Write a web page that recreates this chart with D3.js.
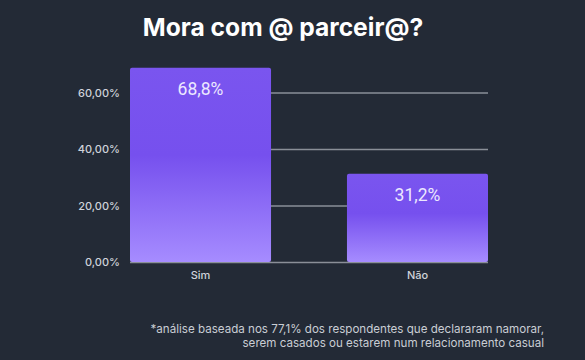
<!DOCTYPE html>
<html><head><meta charset="utf-8">
<script src="https://cdn.jsdelivr.net/npm/d3@7"></script>
<style>html,body{margin:0;padding:0;background:#232a36;}svg{display:block;}</style>
</head><body>
<script>
const categories = ["Sim", "Não"];
const values = [68.8, 31.2];
const valueLabels = ["68,8%", "31,2%"];
const yTicks = [0, 20, 40, 60];
const yTickLabels = ["0,00%", "20,00%", "40,00%", "60,00%"];
const title = "Mora com @ parceir@?";
const footnote = ["*análise baseada nos 77,1% dos respondentes que declararam namorar,", "serem casados ou estarem num relacionamento casual"];

const W = 585, H = 360;
const m = {left: 130, right: 97, top: 37, bottom: 98};
const svg = d3.select("body").append("svg").attr("width", W).attr("height", H);
svg.append("rect").attr("width", W).attr("height", H).attr("fill", "#232a36");

const defs = svg.append("defs");
const grad = defs.append("linearGradient").attr("id", "bg").attr("x1", 0).attr("y1", 0).attr("x2", 0).attr("y2", 1);
grad.append("stop").attr("offset", "0%").attr("stop-color", "#7a55ef");
grad.append("stop").attr("offset", "45%").attr("stop-color", "#7650ee");
grad.append("stop").attr("offset", "100%").attr("stop-color", "#a68cff");

const x = d3.scaleBand().domain(categories).range([m.left, W - m.right]).paddingInner(0.35).paddingOuter(0);
const y = d3.scaleLinear().domain([0, 80]).range([H - m.bottom, H - m.bottom - 4 * 56.5]);

// gridlines
const yAxis = d3.axisLeft(y).tickValues(yTicks).tickFormat((d, i) => yTickLabels[i]).tickSize(-(W - m.left - m.right)).tickPadding(10);
const ga = svg.append("g").attr("transform", `translate(${m.left},0)`).call(yAxis);
ga.select(".domain").remove();
ga.selectAll(".tick line").attr("stroke", "#8a8f98").attr("stroke-width", 1.6);
ga.selectAll(".tick text").attr("fill", "#cfd3da").attr("font-family", "Inter, sans-serif").attr("font-size", 11).attr("font-weight", 500);

// bars
svg.selectAll("rect.bar").data(values).enter().append("rect").attr("class", "bar")
  .attr("x", (d, i) => x(categories[i])).attr("width", x.bandwidth())
  .attr("y", d => y(d)).attr("height", d => y(0) - y(d))
  .attr("rx", 2).attr("fill", "url(#bg)");

svg.selectAll("text.vl").data(values).enter().append("text").attr("class", "vl")
  .attr("x", (d, i) => x(categories[i]) + x.bandwidth() / 2).attr("y", d => y(d) + 27.5)
  .attr("text-anchor", "middle").attr("fill", "#ece8ff").attr("font-family", "Roboto, sans-serif").attr("font-size", 17.5)
  .text((d, i) => valueLabels[i]);

// x axis labels
const xAxis = d3.axisBottom(x).tickSize(0).tickPadding(9);
const gx = svg.append("g").attr("transform", `translate(0,${y(0)})`).call(xAxis);
gx.select(".domain").remove();
gx.selectAll(".tick text").attr("fill", "#cfd3da").attr("font-family", "Inter, sans-serif").attr("font-size", 11).attr("font-weight", 500);

// title
svg.append("text").attr("x", 283).attr("y", 36).attr("text-anchor", "middle").attr("fill", "#ffffff")
  .attr("font-family", "Inter, sans-serif").attr("font-weight", 700).attr("font-size", 24.6).text(title);

// footnote
svg.selectAll("text.fn").data(footnote).enter().append("text").attr("class", "fn")
  .attr("x", 544).attr("y", (d, i) => 333 + i * 14.2).attr("text-anchor", "end").attr("fill", "#c9cdd4")
  .attr("font-family", "Inter, sans-serif").attr("font-size", 11.6).text(d => d);
</script>
</body></html>
